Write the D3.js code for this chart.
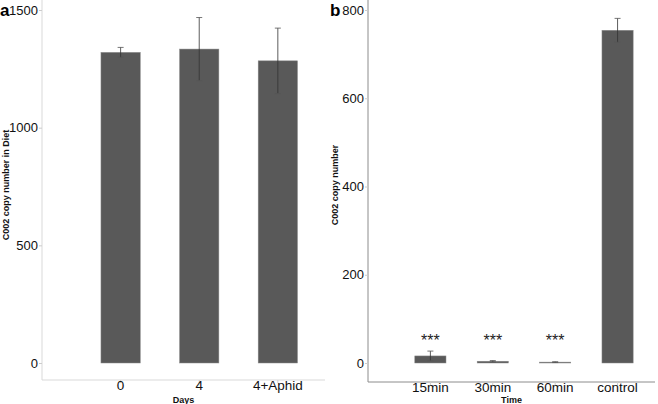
<!DOCTYPE html>
<html><head><meta charset="utf-8">
<script src="https://cdn.jsdelivr.net/npm/d3@7.9.0/dist/d3.min.js"></script>
<style>body{margin:0;background:#fff}svg{display:block;font-family:"Liberation Sans",Arial,sans-serif}</style>
</head><body><svg width="658" height="404"></svg>
<script>
// panel a
const daysCats=["0","4","4+Aphid"];
const daysMeans=[1320,1334,1284];
const daysErr=[21,134,139];
const daysTicks=[0,500,1000,1500];
// panel b
const timeCats=["15min","30min","60min","control"];
const timeMeans=[16,4,2,754];
const timeErr=[11,1.5,1,27];
const timeStars=["***","***","***",""];
const timeTicks=[0,200,400,600,800];

const svg=d3.select("svg");
const barCol="#595959";

function panel(o){
  const g=svg.append("g");
  const y=d3.scaleLinear().domain([0,o.ymax]).range([363,10]);
  const step=(o.axR-o.axL)/(o.cats.length+0.6);
  const x=d3.scaleBand().domain(o.cats).range([o.axL+step*0.5,o.axL+step*(o.cats.length+0.5)]).paddingInner(0.5).paddingOuter(0.25);
  // axis lines
  g.append("line").attr("x1",o.axL).attr("x2",o.axL).attr("y1",0).attr("y2",o.axB).attr("stroke",o.axCol).attr("stroke-width",1);
  g.append("line").attr("x1",o.axL).attr("x2",o.axR).attr("y1",o.axB).attr("y2",o.axB).attr("stroke",o.axCol).attr("stroke-width",1);
  // y axis
  const ya=g.append("g").attr("transform",`translate(${o.axL},0)`)
    .call(d3.axisLeft(y).tickValues(o.ticks).tickFormat(d3.format("d")).tickSize(3).tickPadding(1));
  ya.select(".domain").remove();
  ya.selectAll("line").attr("stroke","#ccc");
  ya.selectAll("text").attr("font-size",13).attr("fill","#111").attr("font-family","Liberation Sans, Arial");
  // x axis
  const xa=g.append("g").attr("transform",`translate(0,${o.axB})`)
    .call(d3.axisBottom(x).tickSize(3).tickPadding(0));
  xa.select(".domain").remove();
  xa.selectAll("line").attr("stroke","#ccc");
  xa.selectAll("text").attr("font-size",13.5).attr("fill","#111").attr("font-family","Liberation Sans, Arial").attr("dy","0.55em");
  // bars
  g.selectAll("rect.bar").data(o.vals).join("rect").attr("class","bar")
    .attr("x",(d,i)=>x(o.cats[i])).attr("width",x.bandwidth())
    .attr("y",d=>y(d)).attr("height",d=>y(0)-y(d))
    .attr("fill",barCol).attr("stroke","#8a8a8a").attr("stroke-width",0.5);
  // error bars
  const eb=g.selectAll("g.err").data(o.vals).join("g").attr("class","err");
  eb.append("line").attr("x1",(d,i)=>x(o.cats[i])+x.bandwidth()/2).attr("x2",(d,i)=>x(o.cats[i])+x.bandwidth()/2)
    .attr("y1",(d,i)=>y(d+o.err[i])).attr("y2",(d,i)=>y(d-o.err[i])).attr("stroke","#333").attr("stroke-width",0.8);
  [1,-1].forEach(s=>eb.append("line")
    .attr("x1",(d,i)=>x(o.cats[i])+x.bandwidth()/2-3).attr("x2",(d,i)=>x(o.cats[i])+x.bandwidth()/2+3)
    .attr("y1",(d,i)=>y(d+s*o.err[i])).attr("y2",(d,i)=>y(d+s*o.err[i])).attr("stroke","#555").attr("stroke-width",0.8));
  // stars
  if(o.stars) g.selectAll("text.star").data(o.stars).join("text").attr("class","star")
    .attr("x",(d,i)=>x(o.cats[i])+x.bandwidth()/2).attr("y",346).attr("text-anchor","middle")
    .attr("font-size",16).attr("fill","#222").text(d=>d);
  // titles
  g.append("text").attr("transform",`translate(${o.ytX},185) rotate(-90)`).attr("text-anchor","middle")
    .attr("font-size",9).attr("font-weight","bold").attr("fill","#111").text(o.ytitle);
  g.append("text").attr("x",(o.axL+o.axR)/2).attr("y",403).attr("text-anchor","middle")
    .attr("font-size",9).attr("font-weight","bold").attr("fill","#111").text(o.xtitle);
  g.append("text").attr("x",o.lblX).attr("y",16).attr("font-size",17).attr("font-weight","bold").attr("fill","#000").text(o.lbl);
}

panel({cats:daysCats,vals:daysMeans,err:daysErr,ticks:daysTicks,ymax:1500,axL:42,axR:325,axB:380,axCol:"#d9d9d9",
  ytitle:"C002 copy number in Diet",xtitle:"Days",ytX:9,lbl:"a",lblX:0});
panel({cats:timeCats,vals:timeMeans,err:timeErr,ticks:timeTicks,stars:timeStars,ymax:800,axL:368,axR:655,axB:382,axCol:"#8c8c8c",
  ytitle:"C002 copy number",xtitle:"Time",ytX:338,lbl:"b",lblX:330});
</script></body></html>
